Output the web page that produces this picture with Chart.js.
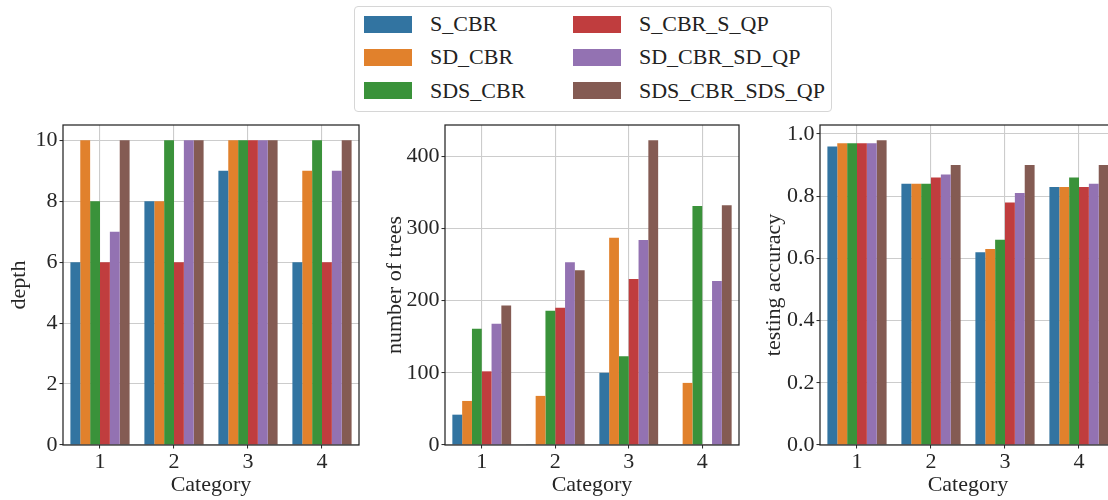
<!DOCTYPE html>
<html>
<head>
<meta charset="utf-8">
<script src="https://cdn.jsdelivr.net/npm/chart.js@4"></script>
<style>
    body {
        margin: 0;
        width: 1108px;
        height: 500px;
        overflow: hidden;
        background: #fff;
        position: relative;
        font-family: "Liberation Serif", serif;
    }
    .panel {
        position: absolute;
        top: 0;
        height: 500px;
    }
    #legend {
        position: absolute;
        left: 354px;
        top: 6px;
        width: 476px;
        height: 104px;
        border: 1px solid #d6d6d6;
        border-radius: 4px;
        background: #fff;
    }
    .swatch {
        position: absolute;
        width: 48px;
        height: 17px;
    }
    .entry {
        position: absolute;
        font-size: 22px;
        line-height: 22px;
        color: #222;
        white-space: nowrap;
    }
</style>
</head>
<body>
<div class="panel" style="left:0px;width:363px"><canvas id="depthChart"></canvas></div>
<div class="panel" style="left:370px;width:373px"><canvas id="treesChart"></canvas></div>
<div class="panel" style="left:740px;width:380px"><canvas id="accChart"></canvas></div>
<div id="legend"></div>

<script>
const categories = ["1", "2", "3", "4"];
const seriesNames = ["S_CBR", "SD_CBR", "SDS_CBR", "S_CBR_S_QP", "SD_CBR_SD_QP", "SDS_CBR_SDS_QP"];
const seriesColors = ["#3274a1", "#e1812c", "#3a923a", "#c03d3e", "#9372b2", "#845b53"];

// one row per series, one value per category
const depthValues = [
    [6, 8, 9, 6],
    [10, 8, 10, 9],
    [8, 10, 10, 10],
    [6, 6, 10, 6],
    [7, 10, 10, 9],
    [10, 10, 10, 10],
];
const treeValues = [
    [42, 1, 100, 0],
    [61, 68, 287, 86],
    [161, 186, 123, 331],
    [102, 190, 230, 1],
    [168, 253, 284, 227],
    [193, 242, 422, 332],
];
const accuracyValues = [
    [0.96, 0.84, 0.62, 0.83],
    [0.97, 0.84, 0.63, 0.83],
    [0.97, 0.84, 0.66, 0.86],
    [0.97, 0.86, 0.78, 0.83],
    [0.97, 0.87, 0.81, 0.84],
    [0.98, 0.90, 0.90, 0.90],
];

const FONT = "'Liberation Serif', serif";
const INK = "#262626";

// full box around the plot area, drawn last
const spines = {
    id: "spines",
    afterDraw: (chart) => {
        const { ctx, chartArea: a } = chart;
        ctx.save();
        ctx.strokeStyle = INK;
        ctx.lineWidth = 1.25;
        ctx.strokeRect(a.left, a.top, a.right - a.left, a.bottom - a.top);
        ctx.restore();
    },
};

const makeChart = (id, values, yLabel, axisWidth, titlePad, step, fmt) => {
    const top = Math.max(...values.flat()) * 1.05;
    const datasets = seriesNames.map((name, i) => ({
        label: name,
        data: values[i],
        backgroundColor: seriesColors[i],
        borderWidth: 0,
        categoryPercentage: 0.8,
        barPercentage: 1.0,
    }));

    return new Chart(document.getElementById(id), {
        type: "bar",
        data: { labels: categories, datasets: datasets },
        options: {
            responsive: true,
            maintainAspectRatio: false,
            animation: false,
            layout: { padding: { top: 125, right: 4, left: 0, bottom: 0 } },
            plugins: { legend: { display: false }, tooltip: { enabled: false } },
            scales: {
                x: {
                    z: 1,
                    offset: true,
                    grid: {
                        offset: false,
                        color: "#cccccc",
                        lineWidth: 1.1,
                        drawTicks: true,
                        tickLength: 3.5,
                        tickColor: INK,
                        tickWidth: 1,
                    },
                    border: { display: false },
                    ticks: {
                        color: INK,
                        padding: 1,
                        font: { family: FONT, size: 22 },
                    },
                    title: {
                        display: true,
                        text: "Category",
                        color: INK,
                        padding: { top: 0, bottom: 4 },
                        font: { family: FONT, size: 22, lineHeight: 1 },
                    },
                    afterFit: (scale) => {
                        scale.height = 55;
                    },
                },
                y: {
                    z: 1,
                    min: 0,
                    max: top,
                    grid: {
                        color: "#cccccc",
                        lineWidth: 1.1,
                        drawTicks: true,
                        tickLength: 3.5,
                        tickColor: INK,
                        tickWidth: 1,
                    },
                    border: { display: false },
                    ticks: {
                        stepSize: step,
                        includeBounds: false,
                        color: INK,
                        padding: 2,
                        font: { family: FONT, size: 22 },
                        callback: fmt,
                    },
                    title: {
                        display: true,
                        text: yLabel,
                        color: INK,
                        padding: { top: titlePad, bottom: 0 },
                        font: { family: FONT, size: 22, lineHeight: 1 },
                    },
                    afterFit: (scale) => {
                        scale.width = axisWidth;
                    },
                },
            },
        },
        plugins: [spines],
    });
};

makeChart("depthChart", depthValues, "depth", 63, 8, 2, (v) => v);
makeChart("treesChart", treeValues, "number of trees", 75, 14, 100, (v) => v);
makeChart("accChart", accuracyValues, "testing accuracy", 80, 23, 0.2, (v) => v.toFixed(1));

// two-column legend shared by the three panels
const legend = document.getElementById("legend");
seriesNames.forEach((name, i) => {
    const col = Math.floor(i / 3);
    const row = i % 3;
    const cy = 17 + row * 33.3;
    const sw = document.createElement("div");
    sw.className = "swatch";
    sw.style.left = 9 + col * 209 + "px";
    sw.style.top = cy - 8.5 + "px";
    sw.style.background = seriesColors[i];
    legend.appendChild(sw);
    const txt = document.createElement("div");
    txt.className = "entry";
    txt.style.left = 75 + col * 209 + "px";
    txt.style.top = cy - 11 + "px";
    txt.textContent = name;
    legend.appendChild(txt);
});
</script>
</body>
</html>
